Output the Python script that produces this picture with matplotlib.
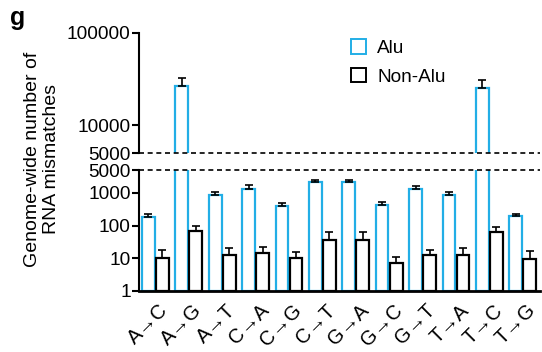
import numpy as np
import matplotlib
matplotlib.use("Agg")
import matplotlib.pyplot as plt
from matplotlib.patches import Patch

plt.rcParams['font.family'] = ['Liberation Sans', 'DejaVu Sans']

categories = ["A→C", "A→G", "A→T", "C→A", "C→G", "C→T",
              "G→A", "G→C", "G→T", "T→A", "T→C", "T→G"]
alu_mean = [185, 26400, 870, 1360, 400, 2180, 2080, 430, 1360, 890, 25100, 190]
alu_upper = [228, 32500, 1070, 1720, 500, 2560, 2500, 540, 1640, 1070, 31200, 230]
nonalu_mean = [10, 66, 13, 14.4, 9.9, 36, 36, 7, 12.3, 13, 62, 9.3]
nonalu_upper = [18, 98, 20, 21.6, 15.5, 62, 62, 11.2, 18.3, 20, 92, 17]

ALU_COLOR = "#22AEE6"
FS = 13.7

fig = plt.figure(figsize=(5.42, 3.52), dpi=100)
left, width = 0.2565, 0.740
ax_top = fig.add_axes([left, 0.5653, width, 0.341])
ax_bot = fig.add_axes([left, 0.1733, width, 0.3437])

x = np.arange(len(categories))
off, bw = 0.21, 0.38
alu = np.array(alu_mean, dtype=float)
non = np.array(nonalu_mean, dtype=float)

for ax in (ax_top, ax_bot):
    ax.bar(x - off, alu - 1, bw, bottom=1, facecolor="white",
           edgecolor=ALU_COLOR, linewidth=1.6, zorder=2)
    ax.bar(x + off, non - 1, bw, bottom=1, facecolor="white",
           edgecolor="black", linewidth=1.6, zorder=2)
    ax.errorbar(x - off, alu,
                yerr=[np.zeros(len(x)), np.array(alu_upper) - alu],
                fmt="none", ecolor="black", elinewidth=1.2, capsize=3,
                capthick=1.2, zorder=3)
    ax.errorbar(x + off, non,
                yerr=[np.zeros(len(x)), np.array(nonalu_upper) - non],
                fmt="none", ecolor="black", elinewidth=1.2, capsize=3,
                capthick=1.2, zorder=3)
    ax.set_yscale("log")
    ax.set_xlim(-0.49, 11.52)
    ax.spines["top"].set_visible(False)
    ax.spines["right"].set_visible(False)
    ax.spines["left"].set_linewidth(1.5)
    ax.tick_params(axis="y", which="major", length=5, width=1.5,
                   labelsize=FS, pad=1)
    ax.yaxis.set_minor_locator(matplotlib.ticker.NullLocator())

# upper segment
ax_top.set_ylim(5000, 100000)
ax_top.set_yticks([5000, 10000, 100000])
ax_top.set_yticklabels(["5000", "10000", "100000"])
ax_top.spines["bottom"].set_visible(False)
ax_top.set_xticks([])
ax_top.axhline(5000, color="black", lw=1.2, ls=(0, (3, 2.2)), zorder=4,
               clip_on=False)

# lower segment
ax_bot.set_ylim(1, 5000)
ax_bot.set_yticks([1, 10, 100, 1000, 5000])
ax_bot.set_yticklabels(["1", "10", "100", "1000", "5000"])
ax_bot.spines["bottom"].set_linewidth(2.0)
ax_bot.axhline(5000, color="black", lw=1.2, ls=(0, (3, 2.2)), zorder=4,
               clip_on=False)
ax_bot.set_xticks(x + 0.1)
ax_bot.set_xticklabels(categories, rotation=45, ha="right",
                       rotation_mode="anchor", fontsize=14.5)
ax_bot.tick_params(axis="x", length=0, pad=7)

fig.text(0.078, 0.548, "Genome-wide number of\nRNA mismatches", rotation=90,
         ha="center", va="center", fontsize=14, linespacing=1.15)
fig.text(0.018, 0.95, "g", fontsize=18, fontweight="bold", ha="left",
         va="center")

handles = [Patch(facecolor="white", edgecolor=ALU_COLOR, linewidth=1.4),
           Patch(facecolor="white", edgecolor="black", linewidth=1.4)]
ax_top.legend(handles, ["Alu", "Non-Alu"], loc="upper left",
              bbox_to_anchor=(0.485, 1.09), frameon=False, fontsize=FS,
              handlelength=0.8, handleheight=0.8, handletextpad=0.6,
              labelspacing=0.55)

fig.savefig("out.png", dpi=100)
